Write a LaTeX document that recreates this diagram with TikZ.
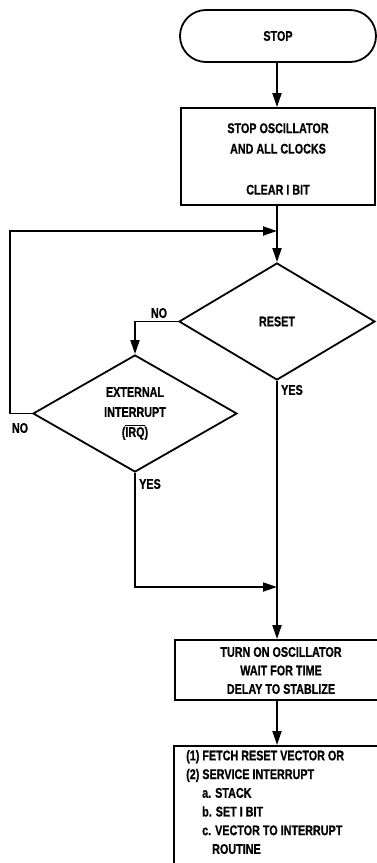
\documentclass[tikz,border=0pt]{standalone}
\usepackage{fontspec}
\setmainfont{Liberation Sans}[FakeStretch=0.77,BoldFeatures={FakeBold=0.8}]
\usetikzlibrary{arrows.meta,shapes.geometric}
\begin{document}
\begin{tikzpicture}[x=1pt,y=-1pt,
  every node/.style={font=\fontsize{14}{20.5}\selectfont\bfseries},
  line/.style={line width=1.8pt},
  arr/.style={line width=1.8pt,-{Triangle[length=14pt,width=9pt]}},
  termbox/.style={draw,line width=1.8pt,rounded corners=26pt,minimum width=196pt,minimum height=52pt,inner sep=0pt},
  procbox/.style={draw,line width=1.8pt,inner sep=0pt},
  decide/.style={draw,diamond,line width=1.8pt,inner sep=0pt,align=center},
  lbl/.style={inner sep=0pt}]
\useasboundingbox (0,0) rectangle (377,863);
\clip (0,0) rectangle (377,863);
% nodes
\node[termbox] (stop) at (278,36) {STOP};
\node[procbox,minimum width=194pt,minimum height=97pt] (b1) at (278,156.5) {};
\node[lbl,align=center] (b1t) at (278,159) {STOP OSCILLATOR\\AND ALL CLOCKS\\[20.5pt]CLEAR I BIT};
\node[decide,minimum width=196pt,minimum height=117pt] (reset) at (277,321.5) {RESET};
\node[decide,minimum width=204pt,minimum height=117pt,font=\fontsize{14}{20}\selectfont\bfseries] (irq) at (135,413.5) {EXTERNAL\\INTERRUPT\\($\overline{\hbox{IRQ}}$)};
\node[procbox,minimum width=212pt,minimum height=60pt] (b2) at (281,670) {};
\node[lbl,align=center,font=\fontsize{14}{18.5}\selectfont\bfseries] (b2t) at (281,670.5) {TURN ON OSCILLATOR\\WAIT FOR TIME\\DELAY TO STABLIZE};
\node[procbox,anchor=north west,minimum width=240pt,minimum height=150pt] (b3) at (173,745) {};
\node[lbl,anchor=north west,align=left,font=\fontsize{14}{18.7}\selectfont\bfseries] (b3t) at (186,750) {(1) FETCH RESET VECTOR OR\\(2) SERVICE INTERRUPT\\\hspace*{16pt}a. STACK\\\hspace*{16pt}b. SET I BIT\\\hspace*{16pt}c. VECTOR TO INTERRUPT\\\hspace*{26pt}ROUTINE};
% labels
\node[lbl] (no1) at (159,313) {NO};
\node[lbl] (no2) at (20,428) {NO};
\node[lbl] (yes1) at (292,390) {YES};
\node[lbl] (yes2) at (150,484) {YES};
% coordinates
\coordinate (join) at (277,231);
\coordinate (merge) at (277,587);
\coordinate (loopx) at (10,0);
% connectors
\draw[arr] (stop.south -| reset.north) -- (b1.north -| reset.north);
\draw[arr] (b1.south -| reset.north) -- (reset.north);
\draw[arr] (irq.west) -- (irq.west -| loopx) |- (join);
\draw[arr] (reset.west) -| (irq.north);
\draw[arr] (reset.south) -- (b2.north -| reset.south);
\draw[arr] (irq.south) |- (merge);
\draw[arr] (b2.south -| reset.south) -- (b3.north -| reset.south);
\end{tikzpicture}
\end{document}
